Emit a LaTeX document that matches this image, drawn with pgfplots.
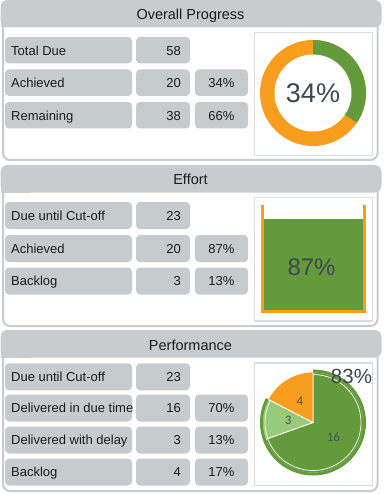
\documentclass[border=0pt]{standalone}
\usepackage{fontspec}
\setmainfont{Liberation Sans}
\newfontfamily\carlito{Carlito}
\usepackage{pgfplots}
\pgfplotsset{compat=1.18}
\definecolor{panelgray}{RGB}{200,204,207}
\definecolor{boxgray}{RGB}{198,203,205}
\definecolor{framegray}{RGB}{218,221,222}
\definecolor{dgreen}{RGB}{99,155,60}
\definecolor{lgreen}{RGB}{153,204,122}
\definecolor{dorange}{RGB}{248,157,29}
\definecolor{txt}{RGB}{28,28,28}
\definecolor{bigtxt}{RGB}{62,70,80}
\definecolor{pietxt}{RGB}{75,80,85}

% ---- data ----
\def\ovTotal{58}\def\ovAch{20}\def\ovRem{38}
\def\efDue{23}\def\efAch{20}\def\efBack{3}
\def\pfDue{23}\def\pfInTime{16}\def\pfDelay{3}\def\pfBack{4}
\pgfmathsetmacro\angO{360*\ovAch/\ovTotal}
\pgfmathsetmacro\angP{360*\pfInTime/\pfDue}
\pgfmathsetmacro\angQ{360*\pfDelay/\pfDue}
\pgfmathsetmacro\angR{360*\pfBack/\pfDue}

\newcommand\Panel[3]{%
  \draw[panelgray, line width=2pt, rounded corners=7pt, fill=white] (3,{#1+3}) rectangle (377.5,{#2-1});
  \fill[panelgray, rounded corners=7pt] (0.5,#1) rectangle (381.5,{#1+27.5});
  \fill[panelgray] (0.5,{#1+15}) rectangle (30,{#1+27.5});
  \node[anchor=base, inner sep=0pt, font=\fontsize{14.5}{17}\selectfont, text=txt] at (190.5,{#1+20}) {#3};
}
\newcommand\RowA[4]{% top, height, label, value
  \fill[boxgray, rounded corners=4pt] (5,#1) rectangle (132,{#1+#2});
  \fill[boxgray, rounded corners=4pt] (136,#1) rectangle (190,{#1+#2});
  \begin{scope}\clip (5,#1) rectangle (132,{#1+#2});
  \node[anchor=base west, inner sep=0pt, text=txt] at (11,{#1+#2/2+4.8}) {#3};\end{scope}
  \node[anchor=base east, inner sep=0pt, text=txt] at (181,{#1+#2/2+4.8}) {#4};
}
\newcommand\RowB[5]{% top, height, label, value, pct
  \RowA{#1}{#2}{#3}{#4}
  \fill[boxgray, rounded corners=4pt] (195,#1) rectangle (248,{#1+#2});
  \node[anchor=base, inner sep=0pt, text=txt] at (221.5,{#1+#2/2+4.8}) {#5};
}

\begin{document}
\begin{tikzpicture}[x=1pt,y=-1pt, font=\fontsize{13}{15}\selectfont]
\fill[white] (0,0) rectangle (383,494);

% ---------- Panel 1 ----------
\Panel{0}{161}{Overall Progress}
\RowA{37}{26.5}{Total Due}{\ovTotal}
\RowB{69.5}{26.5}{Achieved}{\ovAch}{34\%}
\RowB{102}{26.5}{Remaining}{\ovRem}{66\%}
\draw[framegray, line width=1.5pt] (254.5,32.5) rectangle (372.5,155.5);

% ---------- Panel 2 ----------
\Panel{165}{327}{Effort}
\RowA{202}{27}{Due until Cut-off}{\efDue}
\RowB{235}{27}{Achieved}{\efAch}{87\%}
\RowB{267.5}{27}{Backlog}{\efBack}{13\%}
\draw[framegray, line width=1.5pt] (254.5,197.5) rectangle (372.5,321);

% ---------- Panel 3 ----------
\Panel{330}{492}{Performance}
\RowA{363.3}{27}{Due until Cut-off}{\pfDue}
\RowB{394.5}{27}{Delivered in due time}{\pfInTime}{70\%}
\RowB{426.5}{27}{Delivered with delay}{\pfDelay}{13\%}
\RowB{458.5}{27}{Backlog}{\pfBack}{17\%}
\draw[framegray, line width=1.5pt] (254.5,363) rectangle (372.5,485.5);

% ---------- Donut ----------
\begin{axis}[at={(313pt,-93pt)}, anchor=center, width=106pt, height=106pt, scale only axis,
  xmin=-53, xmax=53, ymin=-53, ymax=53, hide axis, clip=false]
\fill[dorange] (axis cs:0,0) circle[radius=53pt];
\fill[dgreen] (axis cs:0,0) -- ++(90:53pt) arc[start angle=90, delta angle=-\angO, radius=53pt] -- cycle;
\fill[white] (axis cs:0,0) circle[radius=38.5pt];
\node[inner sep=0pt, font=\fontsize{27}{30}\selectfont, text=bigtxt] at (axis cs:0,0) {34\%};
\end{axis}

% ---------- Effort container ----------
\begin{axis}[at={(264pt,-310pt)}, anchor=south west, width=99pt, height=105pt, scale only axis,
  xmin=0, xmax=1, ymin=0, ymax=\efDue, hide axis, clip=false]
\addplot[ybar, bar width=99pt, fill=dgreen, draw=none] coordinates {(0.5,\efAch)};
\draw[dorange, line width=3pt] ([xshift=-1.5pt]rel axis cs:0,1) -- ([xshift=-1.5pt,yshift=-1.5pt]rel axis cs:0,0)
  -- ([xshift=1.5pt,yshift=-1.5pt]rel axis cs:1,0) -- ([xshift=1.5pt]rel axis cs:1,1);
\node[inner sep=0pt, font=\fontsize{24}{27}\selectfont, text=bigtxt] at (rel axis cs:0.48,0.41) {87\%};
\end{axis}

% ---------- Pie ----------
\begin{axis}[at={(313pt,-422.5pt)}, anchor=center, width=106pt, height=106pt, scale only axis,
  xmin=-53, xmax=53, ymin=-53, ymax=53, hide axis, clip=false]
\filldraw[fill=dgreen, draw=white, line width=0.8pt] (axis cs:0,0) -- ++(90:50.5pt)
  arc[start angle=90, delta angle=-\angP, radius=50.5pt] -- cycle;
\filldraw[fill=lgreen, draw=white, line width=0.8pt] (axis cs:0,0) -- ++({90-\angP}:50.5pt)
  arc[start angle={90-\angP}, delta angle=-\angQ, radius=50.5pt] -- cycle;
\filldraw[fill=dorange, draw=white, line width=0.8pt] (axis cs:0,0) -- ++({90-\angP-\angQ}:50.5pt)
  arc[start angle={90-\angP-\angQ}, delta angle=-\angR, radius=50.5pt] -- cycle;
\draw[dgreen, line width=3pt] (axis cs:0,0) ++(90:51.5pt)
  arc[start angle=90, delta angle={-(\angP+\angQ)}, radius=51.5pt];
\draw[white, line width=0.7pt] (axis cs:0,0) ++(90:48pt)
  arc[start angle=90, delta angle={-(\angP+\angQ)}, radius=48pt];
\path (axis cs:0,0) ++({90-\angP/2}:25pt) node[inner sep=0pt, font=\carlito\fontsize{13}{15}\selectfont, text=pietxt] {\pfInTime};
\path (axis cs:0,0) ++({90-\angP-\angQ/2}:25pt) node[inner sep=0pt, font=\carlito\fontsize{13}{15}\selectfont, text=pietxt] {\pfDelay};
\path (axis cs:0,0) ++({90-\angP-\angQ-\angR/2}:25pt) node[inner sep=0pt, font=\carlito\fontsize{13}{15}\selectfont, text=pietxt] {\pfBack};
\node[inner sep=0pt, font=\fontsize{20.5}{23}\selectfont, text=bigtxt] at (axis cs:38.5,46.5) {83\%};
\end{axis}
\end{tikzpicture}
\end{document}
